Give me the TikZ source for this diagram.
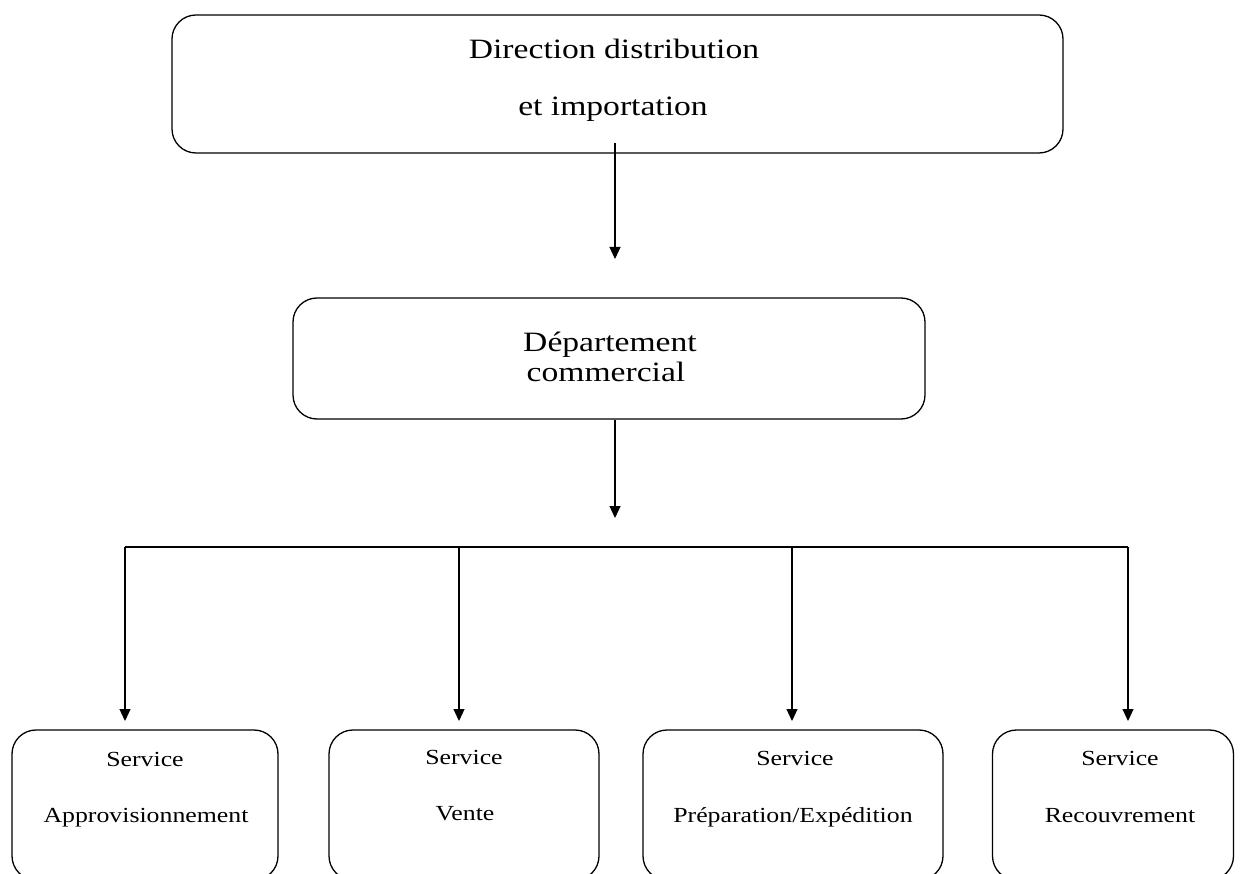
\documentclass[tikz,border=0pt]{standalone}
\usepackage{fontspec}
\setmainfont[FakeStretch=1.2]{Liberation Serif}
\usetikzlibrary{arrows.meta}
\begin{document}
\begin{tikzpicture}[x=1pt,y=-1pt,
  box/.style={draw, line width=1.3pt, rounded corners=24pt, inner sep=0pt},
  conn/.style={line width=1.1pt},
  arr/.style={conn, -{Triangle[length=12pt,width=11pt]}},
  big/.style={font=\fontsize{28}{33}\selectfont, anchor=base, inner sep=0pt},
  small/.style={font=\fontsize{21.5}{26}\selectfont, anchor=base, inner sep=0pt}]
\useasboundingbox (0,0) rectangle (1240,874);
\clip (0,0) rectangle (1240,874);
% boxes
\node[box, minimum width=891pt, minimum height=138pt] (dir) at (617.5,84) {};
\node[box, minimum width=632pt, minimum height=121pt] (dep) at (609,358.5) {};
\node[box, minimum width=266pt, minimum height=150pt] (s1) at (145,805) {};
\node[box, minimum width=270pt, minimum height=150pt] (s2) at (464,805) {};
\node[box, minimum width=300pt, minimum height=150pt] (s3) at (793,805) {};
\node[box, minimum width=241pt, minimum height=150pt] (s4) at (1113,805) {};
% texts
\node[big] (t1a) at (614,59) {Direction distribution};
\node[big] (t1b) at (613,116) {et importation};
\node[big] (t2a) at (610,352) {Département};
\node[big] (t2b) at (606,382) {commercial};
\node[small] (t3a) at (145,766) {Service};
\node[small] (t3b) at (146,822) {Approvisionnement};
\node[small] (t4a) at (464,764) {Service};
\node[small] (t4b) at (465,820) {Vente};
\node[small] (t5a) at (795,765) {Service};
\node[small] (t5b) at (793,822) {Préparation/Expédition};
\node[small] (t6a) at (1120,765) {Service};
\node[small] (t6b) at (1120,822) {Recouvrement};
% connectors
\coordinate (a1s) at (615,143);
\coordinate (a1e) at (615,259);
\coordinate (a2s) at (615,420);
\coordinate (a2e) at (615,518);
\coordinate (b1) at (125,547);
\coordinate (b2) at (459,547);
\coordinate (b3) at (792,547);
\coordinate (b4) at (1128,547);
\coordinate (e1) at (125,721);
\coordinate (e2) at (459,721);
\coordinate (e3) at (792,721);
\coordinate (e4) at (1128,721);
\draw[arr] (a1s) -- (a1e);
\draw[arr] (a2s) -- (a2e);
\draw[conn] (b1) -- (b4);
\draw[arr] (b1) -- (e1);
\draw[arr] (b2) -- (e2);
\draw[arr] (b3) -- (e3);
\draw[arr] (b4) -- (e4);
\end{tikzpicture}
\end{document}
